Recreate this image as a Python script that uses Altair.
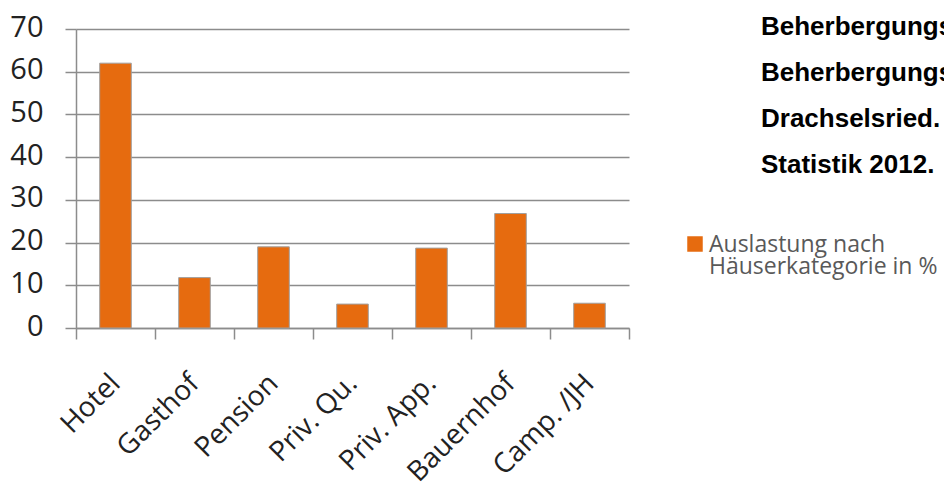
import altair as alt
import pandas as pd

categories = ["Hotel", "Gasthof", "Pension", "Priv. Qu.", "Priv. App.", "Bauernhof", "Camp. /JH"]
values = [62, 11.8, 19, 5.6, 18.7, 26.8, 5.8]
y_ticks = [0, 10, 20, 30, 40, 50, 60, 70]
legend_lines = ["Auslastung nach", "Häuserkategorie in %"]
note_lines = ["Beherbergungs", "Beherbergungs", "Drachselsried.", "Statistik 2012."]

df = pd.DataFrame({"Kategorie": categories, "Wert": values})
one = pd.DataFrame({"k": [0]})

ORANGE = "#E66B0F"
GRID = "#8C8C8C"

bars = alt.Chart(df).mark_bar(
    width=alt.RelativeBandSize(0.4), color=ORANGE, stroke="#A0A0A0", strokeWidth=1
).encode(
    x=alt.X(
        "Kategorie:N",
        sort=categories,
        scale=alt.Scale(paddingInner=0, paddingOuter=0),
        axis=alt.Axis(
            title=None, labelAngle=-45, labelAlign="right", labelBaseline="middle",
            labelFont="Open Sans", labelFontSize=28, labelColor="#222222",
            tickBand="extent", tickSize=11, tickColor=GRID, tickWidth=1.5,
            domainColor=GRID, domainWidth=1.5, labelPadding=40, labelOffset=0,
            grid=False,
        ),
    ),
    y=alt.Y(
        "Wert:Q",
        scale=alt.Scale(domain=[0, 70], nice=False),
        axis=alt.Axis(
            title=None, values=y_ticks, grid=True, gridColor=GRID, gridWidth=1.5,
            tickSize=11, tickColor=GRID, tickWidth=1.5, domainColor=GRID, domainWidth=1.5,
            labelFont="Open Sans", labelFontSize=29, labelColor="#222222",
            labelPadding=22, labelOffset=-2,
        ),
    ),
)

legend_sq = alt.Chart(one).mark_square(size=240, color=ORANGE, opacity=1).encode(
    x=alt.value(619), y=alt.value(215)
)
legend_txt = alt.Chart(one).mark_text(
    text=legend_lines, align="left", baseline="alphabetic", font="Open Sans",
    fontSize=23, lineHeight=22, color="#595959"
).encode(x=alt.value(633), y=alt.value(223))

note_txt = alt.Chart(one).mark_text(
    text=note_lines, align="left", baseline="alphabetic", font="Liberation Sans",
    fontWeight="bold", fontSize=26, lineHeight=46, color="#000000"
).encode(x=alt.value(685), y=alt.value(6))

chart = alt.layer(bars, legend_sq, legend_txt, note_txt).properties(
    width=553, height=299,
    padding={"left": 76, "top": 29, "right": 315, "bottom": 158},
    autosize=alt.AutoSizeParams(type="none"),
    background="white",
).configure_view(stroke=None)

chart.save("out.html", embed_options={"renderer": "svg", "actions": False})
